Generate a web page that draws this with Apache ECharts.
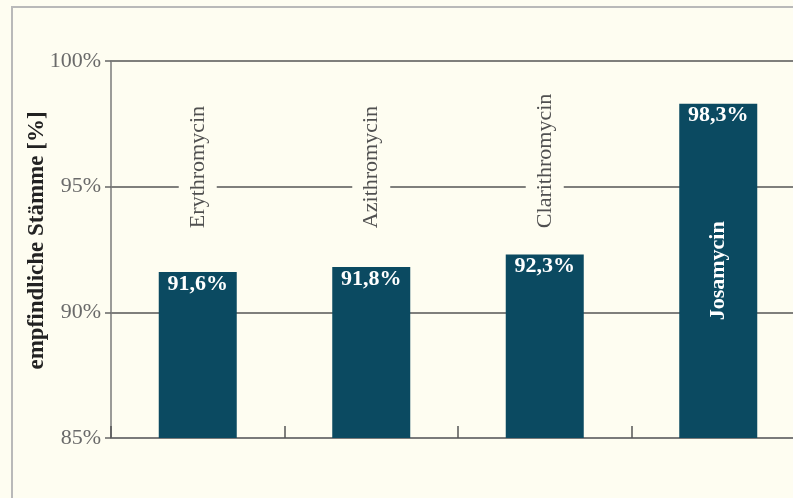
<!DOCTYPE html>
<html>
<head>
<meta charset="utf-8">
<script src="https://cdn.jsdelivr.net/npm/echarts@6/dist/echarts.min.js"></script>
<style>
  html, body { margin: 0; padding: 0; background: #fefdf1; }
  #chart { width: 793px; height: 498px; }
</style>
</head>
<body>
<div id="chart"></div>
<script>
// Makrolide - Anteil empfindlicher Stämme
var categories = ['Erythromycin', 'Azithromycin', 'Clarithromycin', 'Josamycin'];
var values = [91.6, 91.8, 92.3, 98.3];
var yMin = 85, yMax = 100, yStep = 5;

var serif = 'Liberation Serif, Times New Roman, serif';
var barColor = '#0b4a61';
var bg = '#fefdf1';

function pct(v) {
    return v.toFixed(1).replace('.', ',') + '%';
}

var chart = echarts.init(document.getElementById('chart'));

var option = {
    backgroundColor: bg,
    animation: false,
    graphic: [{
        type: 'rect',
        silent: true,
        z: -10,
        shape: { x: 12, y: 7, width: 800, height: 500 },
        style: { fill: 'none', stroke: '#b9b9b9', lineWidth: 2 }
    }],
    grid: { left: 111, top: 61, width: 694, height: 377, outerBoundsMode: 'none', containLabel: false },
    xAxis: {
        type: 'category',
        data: categories,
        axisLine: { lineStyle: { color: '#7a7a7a', width: 1.5 } },
        axisTick: { show: true, inside: true, length: 12, alignWithLabel: false, lineStyle: { color: '#555', width: 1.5 } },
        axisLabel: { show: false }
    },
    yAxis: {
        type: 'value',
        min: yMin,
        max: yMax,
        interval: yStep,
        name: 'empfindliche Stämme [%]',
        nameLocation: 'middle',
        nameGap: 62,
        nameMoveOverlap: false,
        nameTextStyle: { fontFamily: serif, fontSize: 23, fontWeight: 'bold', color: '#222', padding: [0, 0, 0, 18] },
        axisLine: { show: true, lineStyle: { color: '#7a7a7a', width: 1.5 } },
        axisTick: { show: true, length: 6, lineStyle: { color: '#666', width: 1.5 } },
        axisLabel: {
            fontFamily: serif, fontSize: 22, color: '#6a6a6a', margin: 10,
            formatter: function (v) { return v + '%'; }
        },
        splitLine: { lineStyle: { color: '#555', width: 1.5 } }
    },
    series: [{
        type: 'bar',
        data: values,
        barWidth: 78,
        itemStyle: { color: barColor },
        label: {
            show: true,
            position: 'insideTop',
            distance: 1,
            fontFamily: serif,
            fontSize: 22,
            fontWeight: 'bold',
            color: '#ffffff',
            formatter: function (p) { return pct(p.value); }
        }
    }, {
        // Substanznamen: über dem Balken oder, wenn Platz ist, im Balken
        type: 'custom',
        data: values.map(function (v, i) { return [i, v]; }),
        z: 5,
        renderItem: function (params, api) {
            var i = api.value(0), v = api.value(1);
            var top = api.coord([i, v]);
            var base = api.coord([i, yMin]);
            var inside = v > 95;
            if (inside) {
                return {
                    type: 'text',
                    x: top[0],
                    y: (top[1] + base[1]) / 2,
                    rotation: Math.PI / 2,
                    style: {
                        text: categories[i],
                        font: 'bold 22px ' + serif,
                        fill: '#ffffff',
                        align: 'center',
                        verticalAlign: 'middle'
                    }
                };
            }
            var anchor = api.coord([i, 93.35]);
            return {
                type: 'text',
                x: anchor[0],
                y: anchor[1],
                rotation: Math.PI / 2,
                style: {
                    text: categories[i],
                    font: '22px ' + serif,
                    fill: '#505050',
                    align: 'left',
                    verticalAlign: 'middle',
                    backgroundColor: bg,
                    padding: [8, 0, 8, 0]
                }
            };
        }
    }]
};

chart.setOption(option);
window.onresize = function () {
    chart.resize();
};
</script>
</body>
</html>
